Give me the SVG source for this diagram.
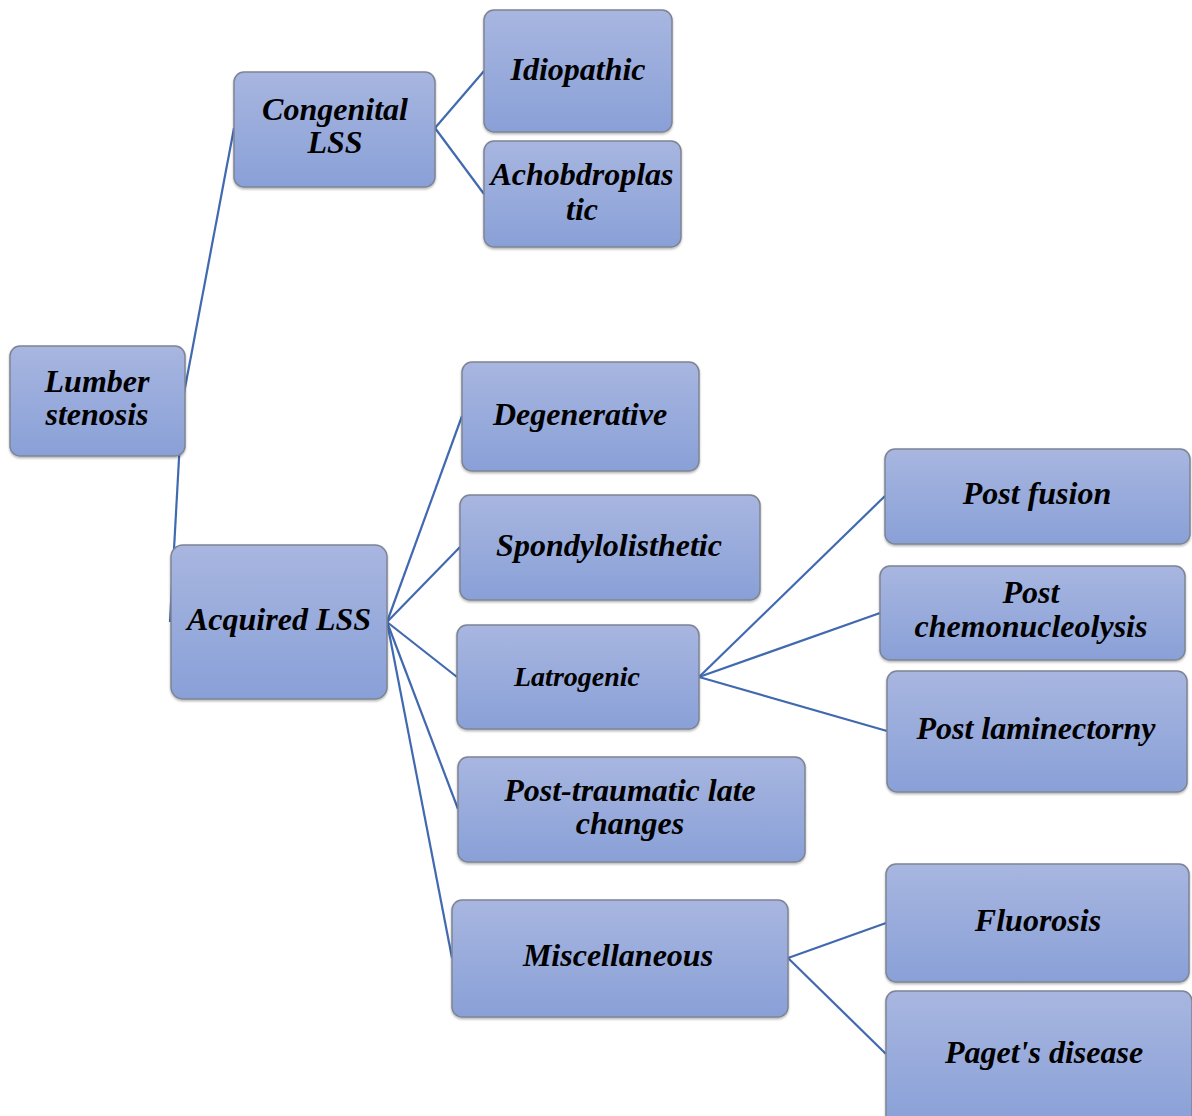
<svg xmlns="http://www.w3.org/2000/svg" width="1192" height="1116" viewBox="0 0 1192 1116">
<defs>
<linearGradient id="g" x1="0" y1="0" x2="0" y2="1">
<stop offset="0" stop-color="#A8B6E0"/>
<stop offset="1" stop-color="#89A0D7"/>
</linearGradient>
<filter id="sh" x="-5%" y="-5%" width="110%" height="115%">
<feDropShadow dx="0" dy="1.5" stdDeviation="1.2" flood-color="#000" flood-opacity="0.3"/>
</filter>
</defs>
<style>
rect.n{fill:url(#g);stroke:#7d8494;stroke-width:1.5;filter:url(#sh)}
text{font-family:"Liberation Serif","Times New Roman",serif;font-weight:bold;font-style:italic;font-size:32px;fill:#000;text-anchor:middle}
.c line{stroke:#4169B0;stroke-width:2.2;fill:none}
</style>
<rect width="1192" height="1116" fill="#fff"/>
<g class="c" id="connectors">
<line x1="234" y1="128" x2="182" y2="404"/>
<line x1="182" y1="404" x2="170" y2="622"/>
<line x1="435" y1="128" x2="484" y2="71"/>
<line x1="435" y1="128" x2="484" y2="194"/>
<line x1="387" y1="622" x2="462" y2="416"/>
<line x1="387" y1="622" x2="460" y2="547"/>
<line x1="387" y1="622" x2="457" y2="677"/>
<line x1="387" y1="622" x2="458" y2="809"/>
<line x1="387" y1="622" x2="452" y2="958"/>
<line x1="699" y1="677" x2="885" y2="496"/>
<line x1="699" y1="677" x2="880" y2="613"/>
<line x1="699" y1="677" x2="887" y2="731"/>
<line x1="788" y1="958" x2="886" y2="923"/>
<line x1="788" y1="958" x2="886" y2="1054"/>
</g>
<g id="lumber"><rect class="n" x="10" y="346" width="175" height="110" rx="10"/><text x="97" y="392">Lumber</text><text x="97" y="425">stenosis</text></g>
<g id="congenital"><rect class="n" x="234" y="72" width="201" height="115" rx="10"/><text x="335" y="120">Congenital</text><text x="335" y="153">LSS</text></g>
<g id="idiopathic"><rect class="n" x="484" y="10" width="188" height="122" rx="10"/><text x="578" y="80">Idiopathic</text></g>
<g id="achobdroplastic"><rect class="n" x="484" y="141" width="197" height="106" rx="10"/><text x="582" y="185">Achobdroplas</text><text x="582" y="220">tic</text></g>
<g id="acquired"><rect class="n" x="171" y="545" width="216" height="154" rx="12"/><text x="279" y="630">Acquired LSS</text></g>
<g id="degenerative"><rect class="n" x="462" y="362" width="237" height="109" rx="10"/><text x="580" y="425">Degenerative</text></g>
<g id="spondylolisthetic"><rect class="n" x="460" y="495" width="300" height="105" rx="10"/><text x="609" y="556">Spondylolisthetic</text></g>
<g id="latrogenic"><rect class="n" x="457" y="625" width="242" height="104" rx="10"/><text x="577" y="686" style="font-size:28px">Latrogenic</text></g>
<g id="posttraumatic"><rect class="n" x="458" y="757" width="347" height="105" rx="10"/><text x="630" y="801">Post-traumatic late</text><text x="630" y="834">changes</text></g>
<g id="miscellaneous"><rect class="n" x="452" y="900" width="336" height="117" rx="10"/><text x="618" y="966">Miscellaneous</text></g>
<g id="postfusion"><rect class="n" x="885" y="449" width="305" height="95" rx="10"/><text x="1037" y="504">Post fusion</text></g>
<g id="postchemo"><rect class="n" x="880" y="566" width="305" height="94" rx="10"/><text x="1031" y="603">Post</text><text x="1031" y="637">chemonucleolysis</text></g>
<g id="postlaminectorny"><rect class="n" x="887" y="671" width="300" height="121" rx="10"/><text x="1036" y="739">Post laminectorny</text></g>
<g id="fluorosis"><rect class="n" x="886" y="864" width="303" height="118" rx="10"/><text x="1038" y="931">Fluorosis</text></g>
<g id="paget"><rect class="n" x="886" y="991" width="306" height="135" rx="10"/><text x="1044" y="1063">Paget's disease</text></g>
</svg>
